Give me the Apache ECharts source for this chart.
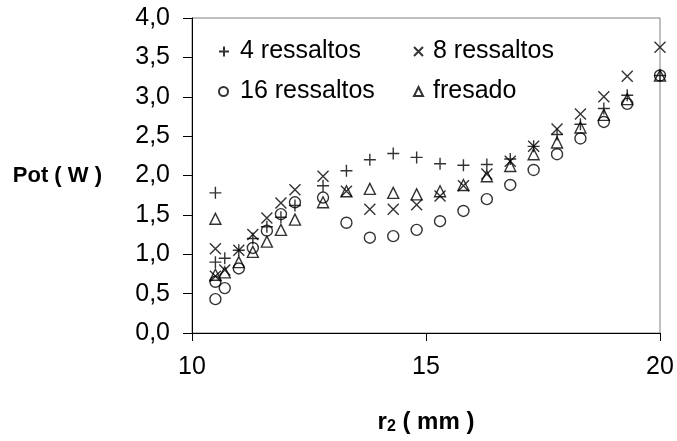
<!DOCTYPE html>
<html>
<head>
<meta charset="utf-8">
<script src="https://cdn.jsdelivr.net/npm/echarts@6/dist/echarts.min.js"></script>
<style>
html,body{margin:0;padding:0;background:#fff;}
#c{width:677px;height:441px;}
</style>
</head>
<body>
<div id="c"></div>
<script>
// r2 (mm) positions (10.5 measured twice)
const r2 = [10.5, 10.5, 10.7, 11.0, 11.3, 11.6, 11.9, 12.2, 12.8, 13.3, 13.8, 14.3, 14.8, 15.3, 15.8, 16.3, 16.8, 17.3, 17.8, 18.3, 18.8, 19.3, 20.0];
const pot4 = [1.78, 0.90, 0.95, 1.05, 1.20, 1.35, 1.47, 1.62, 1.87, 2.06, 2.20, 2.28, 2.23, 2.15, 2.13, 2.14, 2.21, 2.37, 2.52, 2.65, 2.85, 3.02, 3.27];
const pot8 = [1.07, 0.72, 0.80, 1.05, 1.25, 1.46, 1.65, 1.82, 1.99, 1.80, 1.57, 1.57, 1.63, 1.74, 1.87, 2.02, 2.18, 2.37, 2.59, 2.78, 3.00, 3.26, 3.63];
const pot16 = [0.65, 0.43, 0.57, 0.82, 1.08, 1.30, 1.51, 1.66, 1.72, 1.40, 1.21, 1.23, 1.31, 1.42, 1.55, 1.70, 1.88, 2.07, 2.27, 2.47, 2.68, 2.91, 3.27];
const potFresado = [1.45, 0.74, 0.77, 0.90, 1.03, 1.16, 1.31, 1.44, 1.66, 1.80, 1.83, 1.78, 1.76, 1.80, 1.88, 1.99, 2.12, 2.27, 2.42, 2.61, 2.77, 2.97, 3.27];
const seriesNames = ['4 ressaltos', '8 ressaltos', '16 ressaltos', 'fresado'];

const FONT = '"Liberation Sans", Arial, sans-serif';
const PLUS = 'path://M5,0L5,10M0,5L10,5';
const CROSS = 'path://M0,0L10,10M10,0L0,10';

function pts(ys){ return ys.map((y,i)=>[r2[i], y]); }
function mk(name, ys, symbol, size){
  return {
    name: name, type: 'scatter', data: pts(ys),
    symbol: symbol, symbolSize: size,
    itemStyle: {color: 'rgba(0,0,0,0)', borderColor: '#000', borderWidth: 1.4},
    emphasis: {disabled: true}, animation: false
  };
}
function lg(name, left, top, size, pad){
  return {
    data: [name], left: left, top: top, itemWidth: size, itemHeight: size,
    selectedMode: false,
    textStyle: {fontFamily: FONT, fontSize: 25, color: '#000', padding: [0, 0, 0, pad]}
  };
}

const chart = echarts.init(document.getElementById('c'), null, {renderer: 'canvas'});
chart.setOption({
  backgroundColor: '#fff',
  textStyle: {fontFamily: FONT, color: '#000'},
  grid: {left: 192, top: 18, right: 17, bottom: 108, show: true, borderColor: '#808080', borderWidth: 1, backgroundColor: 'transparent'},
  legend: [
    lg(seriesNames[0], 213, 34, 10, 6),
    lg(seriesNames[2], 213, 74, 9, 7),
    lg(seriesNames[1], 408, 34, 9, 5),
    lg(seriesNames[3], 408, 74, 9, 5)
  ],
  xAxis: {
    type: 'value', min: 10, max: 20, interval: 5,
    name: 'r{s|2} ( mm )', nameLocation: 'middle', nameGap: 76,
    nameTextStyle: {fontFamily: FONT, fontSize: 24, fontWeight: 'bold', color: '#000',
      rich: {s: {fontFamily: FONT, fontSize: 16, fontWeight: 'bold', color: '#000', padding: [10,0,0,0]}}},
    axisLine: {show: true, lineStyle: {color: '#000', width: 1}},
    axisTick: {show: true, inside: false, length: 8, lineStyle: {color: '#000'}},
    axisLabel: {fontFamily: FONT, fontSize: 25, color: '#000', margin: 22},
    splitLine: {show: false}
  },
  yAxis: {
    type: 'value', min: 0, max: 4, interval: 0.5,
    name: 'Pot ( W )', nameLocation: 'middle', nameRotate: 0, nameGap: 90,
    nameTextStyle: {fontFamily: FONT, fontSize: 22, fontWeight: 'bold', color: '#000'},
    axisLine: {show: true, lineStyle: {color: '#000', width: 1}},
    axisTick: {show: true, inside: false, length: 9, lineStyle: {color: '#000'}},
    axisLabel: {fontFamily: FONT, fontSize: 25, color: '#000', margin: 22,
      formatter: v => v.toFixed(1).replace('.', ',')},
    splitLine: {show: false}
  },
  series: [
    mk(seriesNames[0], pot4, PLUS, 12),
    mk(seriesNames[1], pot8, CROSS, 11),
    mk(seriesNames[2], pot16, 'circle', 11),
    mk(seriesNames[3], potFresado, 'triangle', 11)
  ]
});
</script>
</body>
</html>
